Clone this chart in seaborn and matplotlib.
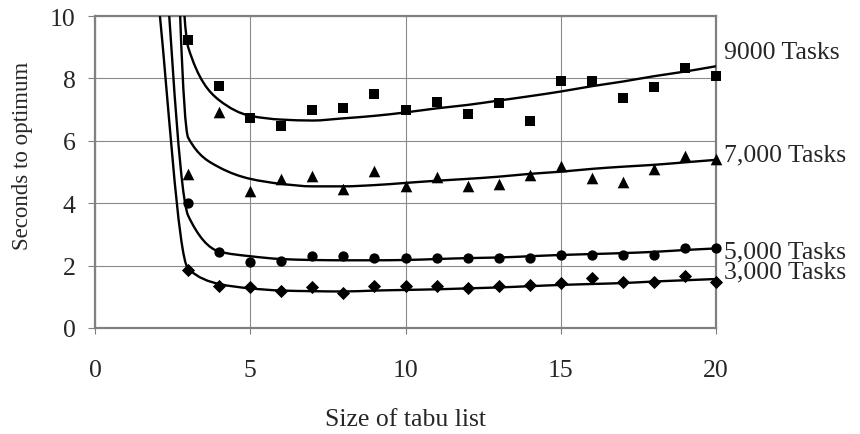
import numpy as np
import pandas as pd
import matplotlib
matplotlib.use('Agg')
import matplotlib.pyplot as plt
from matplotlib.path import Path
from matplotlib.patches import PathPatch
import seaborn as sns

# observed points (tabu list size 3..20)
tabu_size = list(range(3, 21))
sec_9000 = [9.23, 7.77, 6.73, 6.48, 6.99, 7.04, 7.49, 6.99, 7.25, 6.86, 7.20, 6.65, 7.91, 7.93, 7.36, 7.71, 8.33, 8.08]
sec_7000 = [4.94, 6.93, 4.40, 4.78, 4.88, 4.46, 5.04, 4.56, 4.83, 4.56, 4.62, 4.90, 5.20, 4.80, 4.67, 5.10, 5.50, 5.42]
sec_5000 = [4.00, 2.43, 2.13, 2.15, 2.32, 2.32, 2.23, 2.23, 2.23, 2.23, 2.24, 2.24, 2.35, 2.35, 2.34, 2.34, 2.55, 2.56]
sec_3000 = [1.87, 1.36, 1.30, 1.19, 1.30, 1.12, 1.36, 1.36, 1.33, 1.29, 1.36, 1.38, 1.44, 1.61, 1.46, 1.46, 1.66, 1.46]

# fitted curves (tabu list size 2..20), value at 2 lies above the chart
fit_size = list(range(2, 21))
fit_9000 = [35.0, 9.00, 7.30, 6.80, 6.68, 6.65, 6.72, 6.80, 6.91, 7.04, 7.15, 7.29, 7.43, 7.58, 7.75, 7.90, 8.07, 8.22, 8.39]
fit_7000 = [37.0, 6.10, 5.15, 4.78, 4.62, 4.54, 4.54, 4.58, 4.65, 4.72, 4.78, 4.85, 4.94, 5.01, 5.10, 5.17, 5.23, 5.31, 5.39]
fit_5000 = [15.6, 3.60, 2.45, 2.30, 2.21, 2.18, 2.17, 2.17, 2.18, 2.21, 2.24, 2.26, 2.30, 2.34, 2.37, 2.40, 2.44, 2.50, 2.55]
fit_3000 = [10.87, 1.90, 1.41, 1.27, 1.20, 1.18, 1.17, 1.20, 1.22, 1.24, 1.27, 1.30, 1.34, 1.38, 1.41, 1.44, 1.49, 1.53, 1.57]

labels = ['9000 Tasks', '7,000 Tasks', '5,000 Tasks', '3,000 Tasks']
label_y = [8.85, 5.55, 2.45, 1.80]
markers = ['s', '^', 'o', 'D']
sizes = [55, 70, 55, 45]


def smooth_path(xs, ys):
    # monotone cubic (Fritsch-Carlson) as bezier segments
    xs = np.asarray(xs, float)
    ys = np.asarray(ys, float)
    h = np.diff(xs)
    d = np.diff(ys) / h
    m = np.zeros_like(ys)
    m[0], m[-1] = d[0], d[-1]
    for i in range(1, len(xs) - 1):
        if d[i - 1] * d[i] > 0:
            m[i] = 2 / (1 / d[i - 1] + 1 / d[i])
    verts = [(xs[0], ys[0])]
    codes = [Path.MOVETO]
    for i in range(len(xs) - 1):
        verts += [(xs[i] + h[i] / 3, ys[i] + m[i] * h[i] / 3),
                  (xs[i + 1] - h[i] / 3, ys[i + 1] - m[i + 1] * h[i] / 3),
                  (xs[i + 1], ys[i + 1])]
        codes += [Path.CURVE4] * 3
    return Path(verts, codes)


sns.set_style('white')
plt.rcParams['font.family'] = ['Liberation Serif', 'DejaVu Serif']

fig = plt.figure(figsize=(8.6, 4.35), dpi=100)
ax = fig.add_axes([0.1105, 0.2437, 0.7221, 0.7172])

pts = pd.DataFrame({'size': tabu_size * 4,
                    'sec': sec_9000 + sec_7000 + sec_5000 + sec_3000,
                    'series': sum([[l] * len(tabu_size) for l in labels], [])})
fits = [fit_9000, fit_7000, fit_5000, fit_3000]

for lab, fit, mk, sz, ly in zip(labels, fits, markers, sizes, label_y):
    ax.add_patch(PathPatch(smooth_path(fit_size, fit), fill=False,
                           edgecolor='black', lw=1.7, zorder=3))
    sub = pts[pts['series'] == lab]
    sns.scatterplot(data=sub, x='size', y='sec', marker=mk, s=sz, color='black',
                    edgecolor='black', linewidth=0, ax=ax, zorder=4, clip_on=False,
                    legend=False)
    ax.text(20.26, ly, lab, fontsize=18.5, va='center', ha='left', clip_on=False)

ax.set_xlim(0, 20)
ax.set_ylim(0, 10)
ax.set_xticks([0, 5, 10, 15, 20])
ax.set_yticks([0, 2, 4, 6, 8, 10])
ax.grid(True, color='#8a8a8a', lw=0.8)
ax.set_axisbelow(True)
for sp in ax.spines.values():
    sp.set_visible(True)
    sp.set_color('#808080')
    sp.set_linewidth(1.6)

ax.tick_params(axis='x', direction='out', length=4, color='#808080', pad=18, labelsize=18.5, bottom=True)
ax.tick_params(axis='y', direction='out', length=5, color='#808080', pad=9, labelsize=18.5, left=True)

ax.set_xlabel('Size of tabu list', fontsize=18.5)
ax.set_ylabel('Seconds to optimum', fontsize=16.5)
ax.xaxis.set_label_coords(0.5, -0.255)
ax.yaxis.set_label_coords(-0.10, 0.555)

fig.savefig('out.png', dpi=100)
